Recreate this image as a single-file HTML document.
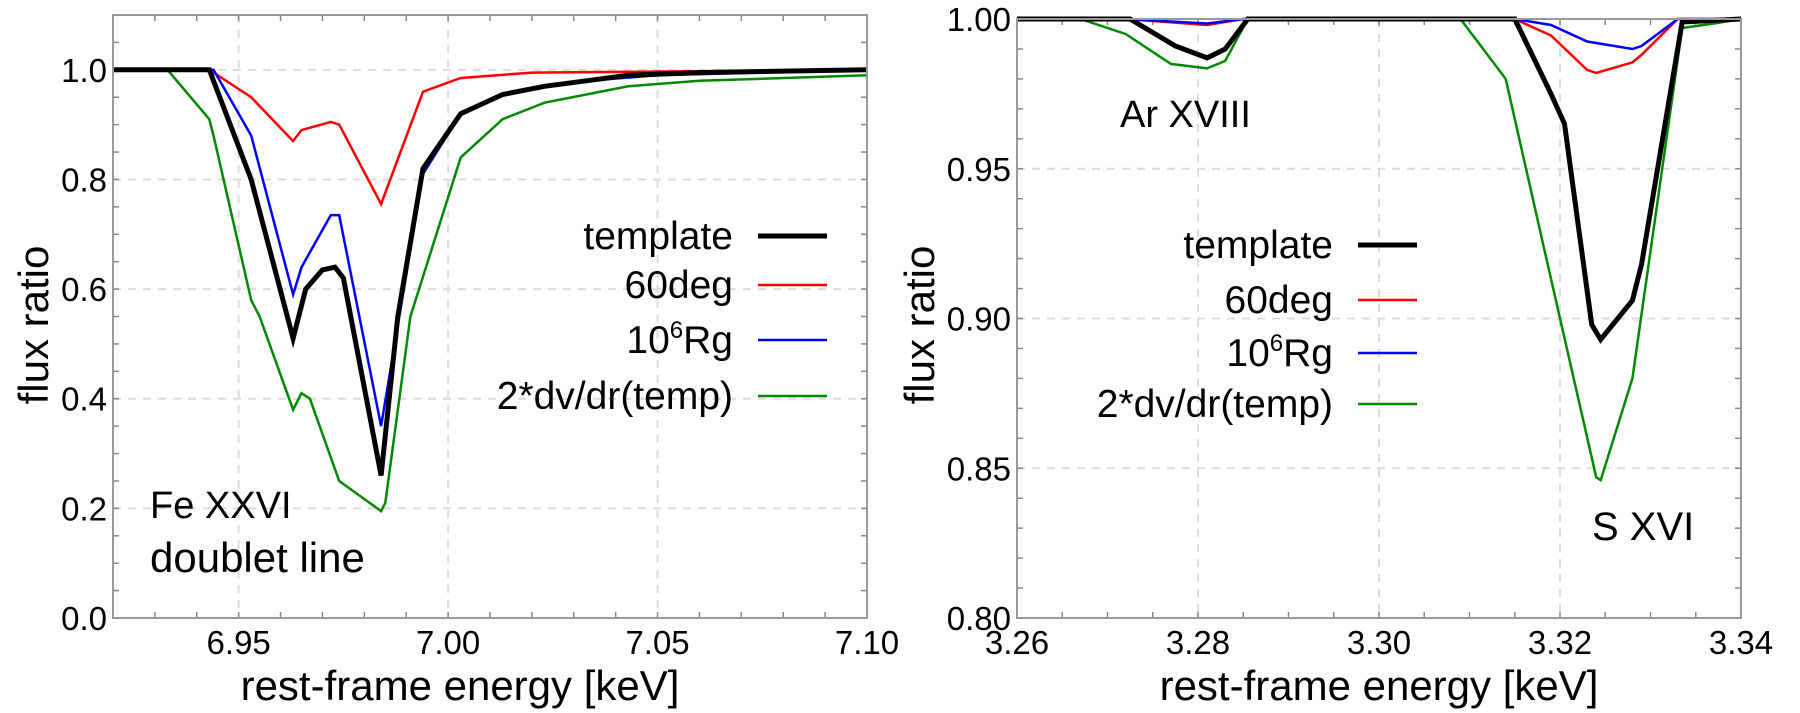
<!DOCTYPE html>
<html><head><meta charset="utf-8"><style>
html,body{margin:0;padding:0;background:#fff;}
svg{display:block;font-family:"Liberation Sans",sans-serif;}
</style></head><body>
<svg id="chart" width="1800" height="713" viewBox="0 0 1800 713"></svg>
<script>
// Left panel data (Fe XXVI)
const leftTemplateX=[6.92,6.943,6.953,6.963,6.966,6.970,6.973,6.975,6.984,6.988,6.994,7.003,7.013,7.023,7.033,7.043,7.06,7.10];
const leftTemplateY=[1.0,1.0,0.80,0.51,0.60,0.635,0.64,0.62,0.26,0.55,0.82,0.92,0.955,0.97,0.98,0.99,0.995,1.0];
const left60X=[6.92,6.943,6.953,6.963,6.965,6.972,6.974,6.984,6.994,7.003,7.02,7.10];
const left60Y=[1.0,1.0,0.95,0.87,0.89,0.905,0.90,0.755,0.96,0.985,0.995,1.0];
const leftRgX=[6.92,6.944,6.953,6.963,6.965,6.972,6.974,6.984,6.994,7.003,7.013,7.023,7.033,7.05,7.10];
const leftRgY=[1.0,1.0,0.88,0.59,0.64,0.735,0.735,0.35,0.81,0.92,0.955,0.97,0.98,0.99,1.0];
const leftDvX=[6.92,6.933,6.943,6.944,6.953,6.955,6.963,6.965,6.967,6.974,6.984,6.985,6.991,7.003,7.013,7.023,7.033,7.043,7.06,7.10];
const leftDvY=[1.0,1.0,0.91,0.88,0.58,0.55,0.38,0.41,0.40,0.25,0.195,0.21,0.55,0.84,0.91,0.94,0.955,0.97,0.98,0.99];
const leftXTicks=[6.95,7.00,7.05,7.10];
const leftXTickLabels=["6.95","7.00","7.05","7.10"];
const leftYTicks=[0.0,0.2,0.4,0.6,0.8,1.0];
const leftYTickLabels=["0.0","0.2","0.4","0.6","0.8","1.0"];
// Right panel data (Ar XVIII / S XVI)
const rightTemplateX=[3.26,3.2725,3.2775,3.281,3.283,3.2855,3.315,3.319,3.3205,3.3235,3.3245,3.328,3.329,3.3335,3.34];
const rightTemplateY=[1.0,1.0,0.991,0.987,0.99,1.0,1.0,0.975,0.965,0.898,0.893,0.906,0.918,0.999,1.0];
const right60X=[3.26,3.272,3.281,3.285,3.315,3.319,3.323,3.324,3.328,3.329,3.333,3.34];
const right60Y=[1.0,1.0,0.998,1.0,1.0,0.9945,0.983,0.982,0.9855,0.988,1.0,1.0];
const rightRgX=[3.26,3.272,3.281,3.285,3.315,3.319,3.323,3.328,3.329,3.333,3.34];
const rightRgY=[1.0,1.0,0.9985,1.0,1.0,0.998,0.9925,0.990,0.991,1.0,1.0];
const rightDvX=[3.26,3.267,3.272,3.277,3.281,3.283,3.2855,3.309,3.314,3.3185,3.324,3.3245,3.328,3.3335,3.337,3.34];
const rightDvY=[1.0,1.0,0.995,0.985,0.9835,0.986,1.0,1.0,0.98,0.92,0.847,0.846,0.88,0.997,0.9985,1.0];
const rightXTicks=[3.26,3.28,3.30,3.32,3.34];
const rightXTickLabels=["3.26","3.28","3.30","3.32","3.34"];
const rightYTicks=[0.80,0.85,0.90,0.95,1.00];
const rightYTickLabels=["0.80","0.85","0.90","0.95","1.00"];
const seriesNames=["template","60deg","10^6 Rg","2*dv/dr(temp)"];

const NS="http://www.w3.org/2000/svg";
const svg=document.getElementById('chart');
function mk(tag,attrs,parent){const e=document.createElementNS(NS,tag);for(const k in attrs)e.setAttribute(k,attrs[k]);(parent||svg).appendChild(e);return e;}

function panel(cfg){
  const g=mk('g',{});
  
  
  const sx=v=>cfg.x0+(v-cfg.xmin)/(cfg.xmax-cfg.xmin)*(cfg.x1-cfg.x0);
  const sy=v=>cfg.y1-(v-cfg.ymin)/(cfg.ymax-cfg.ymin)*(cfg.y1-cfg.y0);
  cfg.xGrid.forEach(v=>{const l=mk('line',{x1:sx(v),x2:sx(v),y1:cfg.y0,y2:cfg.y1,stroke:'#dcdcdc','stroke-width':2,'stroke-dasharray':'8,7'},g);
    
    });
  cfg.yGrid.forEach(v=>{const l=mk('line',{x1:cfg.x0,x2:cfg.x1,y1:sy(v),y2:sy(v),stroke:'#dcdcdc','stroke-width':2,'stroke-dasharray':'8,7'},g);
    
    });
  for(let v=cfg.xmin;v<=cfg.xmax+1e-9;v+=cfg.xMinor){const x=sx(v);
    mk('line',{x1:x,x2:x,y1:cfg.y1,y2:cfg.y1-6,stroke:'#888','stroke-width':1.5},g);
    mk('line',{x1:x,x2:x,y1:cfg.y0,y2:cfg.y0+6,stroke:'#888','stroke-width':1.5},g);}
  for(let v=cfg.ymin;v<=cfg.ymax+1e-9;v+=cfg.yMinor){const y=sy(v);
    mk('line',{x1:cfg.x0,x2:cfg.x0+6,y1:y,y2:y,stroke:'#888','stroke-width':1.5},g);
    mk('line',{x1:cfg.x1,x2:cfg.x1-6,y1:y,y2:y,stroke:'#888','stroke-width':1.5},g);}
  cfg.series.forEach(s=>{
    const pts=s.x.map((v,i)=>sx(v).toFixed(1)+','+sy(s.y[i]).toFixed(1)).join(' ');
    const p=mk('polyline',{points:pts,fill:'none',stroke:s.color,'stroke-width':s.w,'stroke-linejoin':'miter'},g);
    
    
  });
  const f=mk('rect',{x:cfg.x0,y:cfg.y0,width:cfg.x1-cfg.x0,height:cfg.y1-cfg.y0,fill:'none',stroke:'#999','stroke-width':2},g);
  
  
  cfg.xTicks.forEach((v,i)=>{const t=mk('text',{x:sx(v),y:654,'text-anchor':'middle','font-size':33,fill:'#000'},g);t.textContent=cfg.xLabels[i];
    
    });
  cfg.yTicks.forEach((v,i)=>{const t=mk('text',{x:cfg.x0-6,y:sy(v)+12,'text-anchor':'end','font-size':33,fill:'#000'},g);t.textContent=cfg.yLabels[i];
    
    });
  return {sx,sy,g};
}

const colors=['#000','#f00','#00f','#008800'];
const widths=[5,2.5,2.5,2.5];
const L=panel({name:'left-panel',x0:113,x1:867,y0:15,y1:618,xmin:6.92,xmax:7.10,ymin:0,ymax:1.1,
  xGrid:[6.95,7.00,7.05],yGrid:[0.2,0.4,0.6,0.8,1.0],xMinor:0.01,yMinor:0.05,
  xTicks:leftXTicks,xLabels:leftXTickLabels,yTicks:leftYTicks,yLabels:leftYTickLabels,
  series:[{x:leftDvX,y:leftDvY,color:colors[3],w:widths[3],name:'line-dvdr-left'},
          {x:left60X,y:left60Y,color:colors[1],w:widths[1],name:'line-60deg-left'},
          {x:leftRgX,y:leftRgY,color:colors[2],w:widths[2],name:'line-rg-left'},
          {x:leftTemplateX,y:leftTemplateY,color:colors[0],w:widths[0],name:'line-template-left'}]});
const R=panel({name:'right-panel',x0:1017,x1:1741,y0:19,y1:618,xmin:3.26,xmax:3.34,ymin:0.80,ymax:1.00,
  xGrid:[3.28,3.30,3.32],yGrid:[0.85,0.90,0.95],xMinor:0.005,yMinor:0.01,
  xTicks:rightXTicks,xLabels:rightXTickLabels,yTicks:rightYTicks,yLabels:rightYTickLabels,
  series:[{x:rightDvX,y:rightDvY,color:colors[3],w:widths[3],name:'line-dvdr-right'},
          {x:right60X,y:right60Y,color:colors[1],w:widths[1],name:'line-60deg-right'},
          {x:rightRgX,y:rightRgY,color:colors[2],w:widths[2],name:'line-rg-right'},
          {x:rightTemplateX,y:rightTemplateY,color:colors[0],w:widths[0],name:'line-template-right'}]});

function legend(textRight,lx0,lx1,rows,panelName){
  const g=mk('g',{});
  
  
  seriesNames.forEach((n,i)=>{
    const y=rows[i];
    const t=mk('text',{x:textRight,y:y+13,'text-anchor':'end','font-size':39,fill:'#000'},g);
    if(n==='10^6 Rg'){t.textContent='10';const s=mk('tspan',{dy:-15,'font-size':24},t);s.textContent='6';const r=mk('tspan',{dy:15},t);r.textContent='Rg';}
    else t.textContent=n;
    
    
    const l=mk('line',{x1:lx0,x2:lx1,y1:y,y2:y,stroke:colors[i],'stroke-width':widths[i]},g);
    
    
  });
}
legend(733,758,827,[236,285,340,396],'left');
legend(1333,1358,1417,[245,300,353,404],'right');

function txt(x,y,s,size,name,anchor,rot){
  const t=mk('text',{x:x,y:y,'font-size':size,fill:'#000','text-anchor':anchor||'start'});
  if(rot)t.setAttribute('transform','rotate(-90 '+x+' '+y+')');
  t.textContent=s;
  
  
}
txt(150,518,'Fe XXVI',38,'annotation-fe-xxvi');
txt(150,572,'doublet line',42,'annotation-doublet-line');
txt(1120,127,'Ar XVIII',38,'annotation-ar-xviii');
txt(1592,540,'S XVI',40,'annotation-s-xvi');
txt(460,700,'rest-frame energy [keV]',42,'x-axis-title-left','middle');
txt(1379,700,'rest-frame energy [keV]',42,'x-axis-title-right','middle');
txt(48,325,'flux ratio',42,'y-axis-title-left','middle',true);
txt(934,325,'flux ratio',42,'y-axis-title-right','middle',true);
</script>
</body></html>
